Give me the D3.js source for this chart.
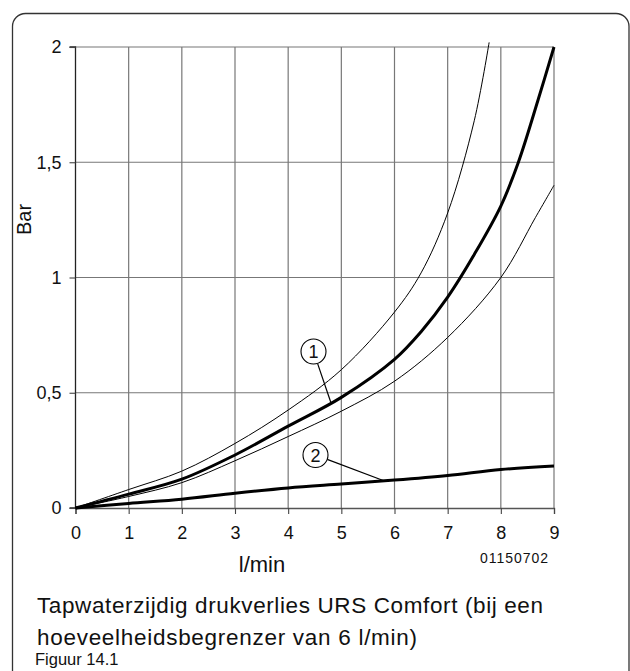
<!DOCTYPE html>
<html><head><meta charset="utf-8">
<script src="https://cdn.jsdelivr.net/npm/d3@7"></script>
<style>
html,body{margin:0;padding:0;background:#fff;}
svg{display:block;}
text{font-family:"Liberation Sans",Arial,sans-serif;fill:#111;}
</style></head>
<body>
<svg id="c" width="630" height="671"></svg>
<script>
// Data
const xTicks = [0,1,2,3,4,5,6,7,8,9];
const yTicks = [0,0.5,1,1.5,2];
const yTickLabels = ["0","0,5","1","1,5","2"];
const curve1Upper = [[0,0],[1,0.08],[2,0.16],[3,0.28],[4,0.425],[5,0.6],[6,0.85],[6.5,1.02],[7,1.28],[7.5,1.68],[7.78,2.02]];
const curve1 = [[0,0],[1,0.06],[2,0.125],[3,0.23],[4,0.355],[5,0.48],[6,0.645],[6.5,0.765],[7,0.915],[7.5,1.1],[8,1.31],[8.33,1.5],[8.7,1.77],[9,2.0]];
const curve1Lower = [[0,0],[1,0.05],[2,0.11],[3,0.205],[4,0.31],[5,0.42],[6,0.55],[7,0.74],[8,1.0],[8.65,1.26],[9,1.4]];
const curve2 = [[0,0],[1,0.02],[2,0.038],[3,0.064],[4,0.087],[5,0.104],[6,0.121],[7,0.141],[8,0.167],[9,0.182]];
const callouts = [{label:"1", at:[4.8,0.46]},{label:"2", at:[5.8,0.118]}];
const xLabel = "l/min", yLabel = "Bar", code = "01150702";
const title1 = "Tapwaterzijdig drukverlies URS Comfort (bij een";
const title2 = "hoeveelheidsbegrenzer van 6 l/min)";
const figLabel = "Figuur 14.1";

const svg = d3.select("#c");
// rounded frame (continues below the picture)
svg.append("rect").attr("x",12.5).attr("y",13.5).attr("width",616.5).attr("height",720)
  .attr("rx",13).attr("fill","none").attr("stroke","#333").attr("stroke-width",1.3);

const x = d3.scaleLinear().domain([0,9]).range([75.5,554]);
const y = d3.scaleLinear().domain([0,2]).range([508,47]);

const g = svg.append("g");
// grid
g.selectAll(".vg").data(xTicks.slice(1)).join("line")
  .attr("x1",d=>x(d)).attr("x2",d=>x(d)).attr("y1",y(0)).attr("y2",y(2))
  .attr("stroke","#777").attr("stroke-width",1.2);
g.selectAll(".hg").data(yTicks.slice(1)).join("line")
  .attr("x1",x(0)).attr("x2",x(9)).attr("y1",d=>y(d)).attr("y2",d=>y(d))
  .attr("stroke","#777").attr("stroke-width",1.2);

// axes
const xAxis = d3.axisBottom(x).tickValues(xTicks).tickSize(6).tickPadding(12).tickFormat(d3.format("d"));
const yAxis = d3.axisLeft(y).tickValues(yTicks).tickSize(6).tickPadding(8).tickFormat((d,i)=>yTickLabels[i]);
const xa = g.append("g").attr("transform",`translate(0,${y(0)})`).call(xAxis);
const ya = g.append("g").attr("transform",`translate(${x(0)},0)`).call(yAxis);
xa.select(".domain").attr("stroke","#555").attr("stroke-width",1.3);
ya.select(".domain").attr("stroke","#222").attr("stroke-width",1.3);
[xa,ya].forEach(a=>{
  a.selectAll(".tick line").attr("stroke","#444").attr("stroke-width",1.1);
  a.selectAll(".tick text").attr("font-size",18).attr("font-family","Liberation Sans, Arial, sans-serif").attr("fill","#111");
});
ya.select(".domain").attr("d",`M-6,${y(0)}H0V${y(2)}H-6`);

// curves
const line = d3.line().x(d=>x(d[0])).y(d=>y(d[1])).curve(d3.curveCatmullRom.alpha(0.5));
const cg = g.append("g").attr("fill","none").attr("stroke","#000");
cg.append("path").datum(curve1Upper).attr("d",line).attr("stroke-width",1);
cg.append("path").datum(curve1Lower).attr("d",line).attr("stroke-width",1);
cg.append("path").datum(curve1).attr("d",line).attr("stroke-width",3);
cg.append("path").datum(curve2).attr("d",line).attr("stroke-width",3);

// callouts
const calloutPos = [[313.5,351.5],[315.5,455]];
callouts.forEach((c,i)=>{
  const [cx,cy] = calloutPos[i];
  const tx = x(c.at[0]), ty = y(c.at[1]);
  const ang = Math.atan2(ty-cy, tx-cx);
  const r = 12.5;
  g.append("line").attr("x1",cx+r*Math.cos(ang)).attr("y1",cy+r*Math.sin(ang))
    .attr("x2",tx).attr("y2",ty).attr("stroke","#000").attr("stroke-width",1.2);
  g.append("circle").attr("cx",cx).attr("cy",cy).attr("r",r).attr("fill","#fff").attr("stroke","#000").attr("stroke-width",1.1);
  g.append("text").attr("x",cx).attr("y",cy+6.5).attr("text-anchor","middle").attr("font-size",18).text(c.label);
});

// labels
svg.append("text").attr("transform","translate(31,235) rotate(-90)").attr("text-anchor","start")
  .attr("font-size",20).text(yLabel);
svg.append("text").attr("x",262).attr("y",572).attr("text-anchor","middle").attr("font-size",22).text(xLabel);
svg.append("text").attr("x",480).attr("y",563).attr("font-size",14)
  .attr("textLength",68).attr("lengthAdjust","spacing").text(code);
svg.append("text").attr("x",37).attr("y",613).attr("font-size",22.5)
  .attr("textLength",506).attr("lengthAdjust","spacing").text(title1);
svg.append("text").attr("x",37).attr("y",645).attr("font-size",22.5)
  .attr("textLength",380).attr("lengthAdjust","spacing").text(title2);
svg.append("text").attr("x",35).attr("y",665).attr("font-size",16.5).text(figLabel);
</script>
</body></html>
